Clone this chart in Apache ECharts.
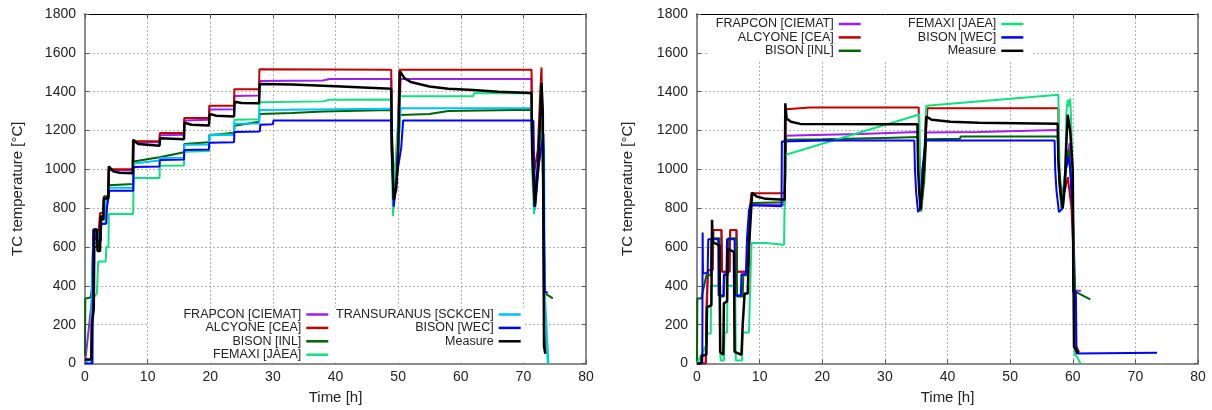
<!DOCTYPE html>
<html><head><meta charset="utf-8">
<script src="https://cdn.jsdelivr.net/npm/echarts@6/dist/echarts.min.js"></script>
<style>html,body{margin:0;padding:0;background:#fff}#c{width:1212px;height:410px}</style>
</head><body><div id="c"></div><script>
// ---- axes ----
const xMin = 0, xMax = 80, xStep = 10;
const yMin = 0, yMax = 1800, yStep = 200;
const xTitle = 'Time [h]';
const yTitle = 'TC temperature [°C]';

// ---- series names & colours ----
const names = ['FRAPCON [CIEMAT]','ALCYONE [CEA]','BISON [INL]','FEMAXI [JAEA]','TRANSURANUS [SCKCEN]','BISON [WEC]','Measure'];
const colors = ['#9a1ff0','#c00000','#006400','#10e080','#00c0ff','#0000ff','#000000'];

// ---- left panel data [time h, temperature °C] ----
const leftFrapcon = [[0,0],[1.0,300],[1.25,330],[1.3,640],[2.2,640],[2.25,600],[2.5,600],[2.6,760],[3.0,760],[3.1,860],[3.75,860],[3.8,995],[7.7,995],[7.75,1140],[11.9,1140],[11.95,1175],[15.8,1178],[15.85,1252],[19.8,1255],[19.85,1308],[23.8,1310],[23.85,1378],[27.8,1380],[27.85,1455],[38,1458],[39,1465],[48.9,1465],[49.0,1100],[49.3,880],[49.8,1000],[50.2,1300],[50.4,1465],[71.3,1465],[71.4,1100],[71.8,880],[72.4,1050],[72.9,1300],[73.1,1200],[73.3,300],[73.6,60]];
const leftAlcyone = [[1.0,0],[1.1,200],[1.3,650],[1.9,650],[2.0,600],[2.3,600],[2.4,775],[2.9,775],[3.0,860],[3.75,860],[3.8,1000],[7.7,1000],[7.75,1145],[11.9,1145],[11.95,1187],[15.8,1187],[15.85,1264],[19.8,1264],[19.85,1328],[23.8,1328],[23.85,1413],[27.8,1413],[27.85,1515],[48.9,1513],[49.0,1200],[49.3,950],[49.9,1100],[50.2,1513],[71.3,1513],[71.4,1200],[71.6,960],[72.3,1100],[72.7,1400],[72.9,1525],[73.1,1525],[73.5,100],[73.6,60]];
const leftBisonInl = [[0,40],[0.05,335],[0.9,340],[1.1,380],[1.3,600],[2.0,600],[2.1,640],[2.5,640],[2.6,740],[3.0,740],[3.1,860],[3.75,860],[3.8,918],[7.7,925],[7.75,1040],[11.9,1062],[11.95,1070],[15.8,1088],[15.85,1130],[19.8,1140],[19.85,1175],[23.8,1188],[23.85,1225],[27.8,1245],[27.85,1285],[33,1290],[38,1298],[48.9,1305],[49.0,1100],[49.3,830],[49.8,950],[50.3,1280],[55,1285],[58,1300],[71.3,1307],[71.4,1100],[71.8,830],[72.4,1000],[73.0,1250],[73.3,600],[73.4,362],[74.7,335]];
const leftFemaxi = [[0,0],[1.0,30],[1.05,330],[1.9,360],[2.0,360],[2.1,525],[3.3,525],[3.4,600],[3.75,600],[3.8,770],[7.7,770],[7.75,955],[11.9,955],[11.95,1018],[15.8,1020],[15.85,1090],[19.8,1095],[19.85,1180],[23.8,1180],[23.85,1255],[27.8,1258],[27.85,1345],[38,1350],[39,1358],[48.9,1360],[49.0,1000],[49.2,760],[49.5,1000],[50.0,1250],[50.3,1377],[62,1377],[62.1,1392],[71.3,1392],[71.4,1000],[71.7,770],[72.3,1000],[72.8,1300],[73.0,1350],[73.3,350],[73.9,0]];
const leftTransuranus = [[1.0,0],[1.1,415],[1.2,415],[1.3,620],[2.0,620],[2.1,640],[2.5,700],[2.6,720],[3.3,720],[3.4,850],[3.75,850],[3.8,905],[7.7,905],[7.75,1030],[11.9,1045],[11.95,1058],[15.8,1060],[15.85,1127],[19.8,1128],[19.85,1175],[23.8,1178],[23.85,1235],[27.8,1236],[27.85,1305],[48.9,1312],[49.0,1100],[49.3,840],[49.8,1000],[50.4,1315],[71.3,1315],[71.4,1100],[71.8,790],[72.4,1000],[73.0,1200],[73.3,1100],[73.4,370],[74.0,0]];
const leftBisonWec = [[0,0],[1.2,0],[1.3,690],[1.9,690],[2.0,630],[2.5,630],[2.6,720],[3.4,720],[3.5,800],[3.9,890],[7.7,890],[7.75,1012],[11.9,1015],[11.95,1048],[15.8,1050],[15.85,1100],[19.8,1102],[19.85,1137],[23.8,1140],[23.85,1192],[27.9,1195],[28.0,1230],[30,1232],[30.1,1252],[48.9,1252],[49.0,1150],[49.3,808],[49.6,900],[50.0,1010],[50.5,1113],[50.8,1252],[71.6,1252],[71.7,1050],[71.9,808],[72.4,1010],[72.8,1100],[73.2,1182],[73.3,700],[73.4,370],[73.9,365]];
const leftMeasure = [[0,20],[1.0,20],[1.1,200],[1.4,280],[1.5,690],[1.9,690],[2.0,580],[2.4,580],[2.5,760],[2.9,740],[3.0,850],[3.7,850],[3.8,1015],[4.5,990],[5.5,982],[7.6,980],[7.7,1152],[8.5,1130],[11.9,1122],[12.0,1160],[15.8,1155],[15.9,1240],[17,1230],[19.8,1226],[19.9,1285],[21,1276],[23.8,1272],[23.9,1348],[25,1342],[27.8,1340],[27.9,1440],[33,1437],[40,1428],[48.9,1415],[49.0,1100],[49.3,842],[49.7,900],[50.0,1100],[50.3,1505],[51,1470],[52,1450],[55,1427],[58,1415],[62,1408],[66,1400],[71.3,1393],[71.4,1100],[71.8,808],[72.3,1000],[72.6,1200],[72.9,1444],[73.1,1300],[73.3,87],[73.5,50]];

// ---- right panel data [time h, temperature °C] ----
const rightFrapcon = [[0,0],[1.4,0],[1.5,300],[1.75,480],[2.5,480],[2.6,688],[3.9,688],[4.0,472],[5.2,472],[5.3,688],[6.3,688],[6.4,472],[8.1,472],[8.5,817],[14.0,817],[14.2,1173],[17,1175],[17.1,1180],[26,1182],[26.1,1190],[35.3,1192],[35.5,1000],[35.8,800],[36.3,1000],[36.6,1190],[45,1192],[45.1,1200],[57.6,1203],[57.8,1000],[58.2,820],[58.7,950],[59.5,1135],[59.8,900],[60.2,600],[60.3,375],[61.3,375]];
const rightAlcyone = [[0,0],[1.4,0],[1.5,200],[1.75,482],[2.5,482],[2.6,688],[3.9,688],[4.0,472],[5.2,472],[5.3,688],[6.3,688],[6.4,472],[8.1,472],[8.5,817],[8.7,877],[14.0,877],[14.2,1310],[18,1318],[35.4,1318],[35.5,1100],[35.8,900],[36.4,1100],[36.8,1315],[57.7,1315],[57.8,1000],[58.3,850],[58.8,900],[59.2,960],[59.5,880],[59.8,800],[60.0,800],[60.2,500],[60.4,100],[61.0,60]];
const rightBisonInl = [[0,10],[0.05,335],[0.7,335],[1.5,455],[2.2,455],[2.3,645],[3.6,645],[3.7,345],[4.3,345],[4.4,455],[4.9,455],[5.0,645],[6.3,645],[6.4,345],[7.3,345],[7.4,455],[8.1,455],[8.6,826],[14.0,830],[14.2,1152],[20,1155],[20.1,1160],[30,1162],[30.1,1166],[35.3,1166],[35.5,1000],[35.8,790],[36.3,950],[36.6,1155],[42,1158],[42.1,1169],[57.6,1169],[57.8,950],[58.2,800],[58.7,950],[59.3,1100],[59.6,1000],[60.0,800],[60.3,450],[60.4,370],[62.8,330]];
const rightFemaxi = [[0,0],[1.5,95],[1.55,155],[2.2,155],[2.25,400],[3.6,400],[3.7,60],[3.8,15],[4.3,15],[4.4,160],[4.8,160],[4.85,400],[6.1,400],[6.2,15],[7.2,15],[7.3,160],[8.3,160],[8.5,400],[8.7,620],[11,620],[11.1,612],[13.9,612],[14.0,850],[14.2,1075],[35.5,1282],[35.6,1000],[35.8,780],[36.2,1000],[36.6,1327],[57.7,1384],[57.9,1000],[58.3,790],[58.8,1000],[59.0,1300],[59.2,1358],[59.4,1323],[59.6,1365],[59.8,1200],[60.0,900],[60.3,45],[60.7,35],[61.2,0]];
const rightBisonWec = [[0,0],[0.85,0],[0.9,675],[0.95,465],[1.7,465],[1.8,640],[3.4,640],[3.45,350],[4.2,350],[4.3,460],[4.7,460],[4.8,640],[6.0,640],[6.1,350],[7.0,350],[7.1,460],[7.8,460],[8.0,650],[8.3,790],[8.5,815],[13.5,810],[13.55,1143],[20,1148],[34.7,1148],[34.8,1000],[35.0,880],[35.3,780],[35.7,800],[36.0,1000],[36.5,1148],[57.1,1148],[57.2,1000],[57.4,890],[57.8,780],[58.4,800],[58.9,1000],[59.3,1066],[59.6,1000],[59.8,880],[60.0,800],[60.05,370],[60.5,370],[60.6,52],[73.45,55]];
const rightMeasure = [[0,0],[0.7,0],[0.75,40],[1.5,45],[1.6,290],[2.3,300],[2.4,740],[2.5,625],[3.6,608],[3.7,60],[4.2,45],[4.3,310],[4.8,320],[4.9,590],[5.9,575],[6.0,60],[7.1,45],[7.3,200],[7.6,360],[8.1,360],[8.3,600],[8.7,820],[8.8,880],[9.5,860],[11,848],[14.0,843],[14.1,1340],[14.3,1262],[15,1245],[16.5,1234],[35.2,1232],[35.3,1000],[35.5,880],[35.7,790],[36.0,900],[36.4,1100],[36.6,1272],[37.5,1255],[40.5,1245],[45,1240],[57.6,1235],[57.7,1050],[58.0,900],[58.4,800],[58.7,900],[59.0,1150],[59.2,1281],[59.4,1240],[59.6,1195],[60.0,1000],[60.2,87],[60.7,60],[61.0,55]];

const leftData = [leftFrapcon,leftAlcyone,leftBisonInl,leftFemaxi,leftTransuranus,leftBisonWec,leftMeasure];
const rightData = [rightFrapcon,rightAlcyone,rightBisonInl,rightFemaxi,null,rightBisonWec,rightMeasure];

const FONT = "'Liberation Sans', Arial, sans-serif";
const TXT = '#222';
const plain = v => String(v);

function bottomX(gi){
  return {type:'value', gridIndex:gi, min:xMin, max:xMax, interval:xStep, position:'bottom',
    name:xTitle, nameLocation:'middle', nameGap:27,
    nameTextStyle:{fontFamily:FONT, fontSize:15, color:TXT},
    axisLine:{show:true, onZero:false, lineStyle:{color:'#8c8c8c', width:2}},
    axisTick:{show:true, inside:true, length:4, lineStyle:{color:'#555'}},
    axisLabel:{fontFamily:FONT, fontSize:14, color:TXT, margin:7, formatter:plain},
    splitLine:{show:true, lineStyle:{color:'#b0b0b0', type:[2,2], width:1}}};
}
function topX(gi){
  return {type:'value', gridIndex:gi, min:xMin, max:xMax, interval:xStep, position:'top',
    axisLine:{show:true, onZero:false, lineStyle:{color:'#000', width:1}},
    axisTick:{show:true, inside:true, length:4, lineStyle:{color:'#555'}},
    axisLabel:{show:false}, splitLine:{show:false}};
}
function leftY(gi, gap){
  return {type:'value', gridIndex:gi, min:yMin, max:yMax, interval:yStep, position:'left',
    name:yTitle, nameLocation:'middle', nameGap:gap, nameRotate:90,
    nameTextStyle:{fontFamily:FONT, fontSize:15, color:TXT},
    axisLine:{show:true, onZero:false, lineStyle:{color:'#8c8c8c', width:2}},
    axisTick:{show:true, inside:true, length:4, lineStyle:{color:'#555'}},
    axisLabel:{fontFamily:FONT, fontSize:14, color:TXT, margin:9, formatter:plain},
    splitLine:{show:true, lineStyle:{color:'#b0b0b0', type:[2,2], width:1}}};
}
function rightY(gi){
  return {type:'value', gridIndex:gi, min:yMin, max:yMax, interval:yStep, position:'right',
    axisLine:{show:true, onZero:false, lineStyle:{color:'#8c8c8c', width:2}},
    axisTick:{show:true, inside:true, length:4, lineStyle:{color:'#555'}},
    axisLabel:{show:false}, splitLine:{show:false}};
}

const series = [];
leftData.forEach((d,i)=>{ if(!d) return;
  series.push({name:names[i], type:'line', xAxisIndex:0, yAxisIndex:0, data:d,
    symbol:'none', showSymbol:false, smooth:false, animation:false,
    lineStyle:{color:colors[i], width: i===6?2.5:2}, itemStyle:{color:colors[i]}});
});
rightData.forEach((d,i)=>{ if(!d) return;
  series.push({name:names[i], type:'line', xAxisIndex:2, yAxisIndex:2, data:d,
    symbol:'none', showSymbol:false, smooth:false, animation:false,
    lineStyle:{color:colors[i], width: i===6?2.5:2}, itemStyle:{color:colors[i]}});
});

function legend(data, right, top, padding){
  return {show:true, orient:'vertical', align:'right', right:right, top:top, padding:padding,
    data:data, selectedMode:false, icon:'rect', itemWidth:22, itemHeight:2.5, itemGap:0.4,
    backgroundColor:'#fff',
    textStyle:{fontFamily:FONT, fontSize:12.5, color:TXT, lineHeight:13}};
}

const option = {
  animation:false,
  backgroundColor:'#fff',
  grid:[
    {left:85, top:14, width:501, height:349.5, outerBoundsMode:'none', containLabel:false},
    {left:697, top:14, width:501, height:349.5, outerBoundsMode:'none', containLabel:false}
  ],
  xAxis:[bottomX(0), topX(0), bottomX(1), topX(1)],
  yAxis:[leftY(0,60), rightY(0), leftY(1,62), rightY(1)],
  legend:[
    legend([names[0],names[1],names[2],names[3]], 879.7, 307.5, [0.5,4,1.5,34]),
    legend([names[4],names[5],names[6]], 687.8, 307.5, [0.5,3.5,15,10]),
    legend([names[0],names[1],names[2]], 332.3, 15, [2.5,19,2.5,9]),
    legend([names[3],names[5],names[6]], 179, 15, [2.5,9.7,2.5,28])
  ],
  series:series
};
const chart = echarts.init(document.getElementById('c'), null, {renderer:'canvas'});
chart.setOption(option);
</script></body></html>
